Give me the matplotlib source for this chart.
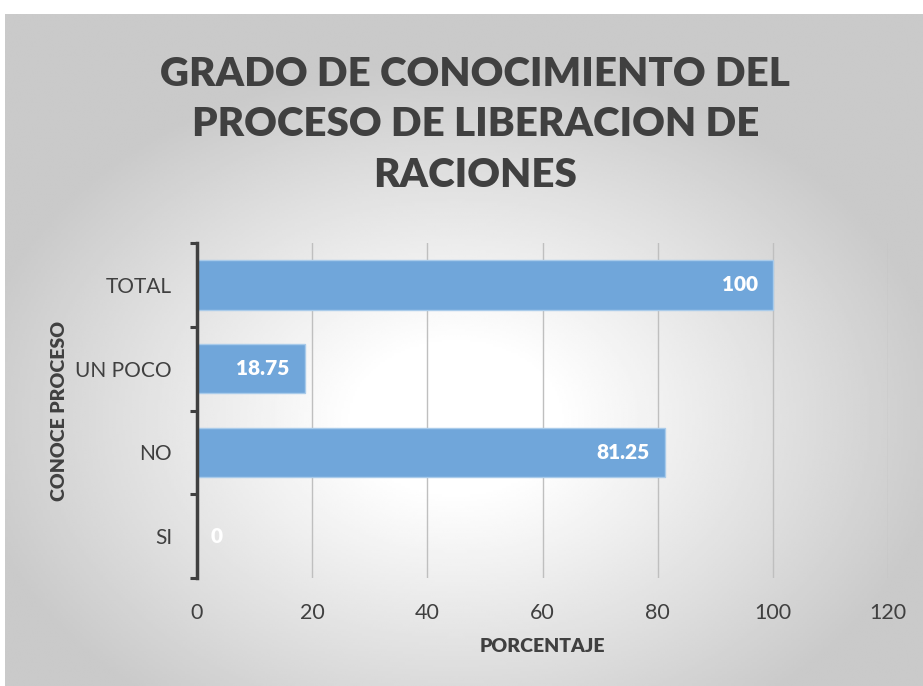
import matplotlib
matplotlib.use("Agg")
import matplotlib.pyplot as plt
import numpy as np

# data
categorias = ["SI", "NO", "UN POCO", "TOTAL"]
porcentajes = [0, 81.25, 18.75, 100]
etiquetas = ["0", "81.25", "18.75", "100"]
x_ticks = [0, 20, 40, 60, 80, 100, 120]

plt.rcParams['font.family'] = ['Lato', 'DejaVu Sans']

W, H = 923, 686
fig = plt.figure(figsize=(W / 100, H / 100), dpi=100)
fig.patch.set_facecolor('white')

# radial gradient background of the chart frame
bg = fig.add_axes([5 / W, 0, 1 - 5 / W, (H - 14) / H], zorder=0)
yy, xx = np.mgrid[0:300, 0:400]
cx, cy = 0.49 * 400, 0.6 * 300
d = np.sqrt(((xx - cx) / 200.0) ** 2 + ((yy - cy) / 150.0) ** 2)
val = 1 - 0.21 * np.clip((d - 0.22) / 0.85, 0, 1)
bg.imshow(val, cmap='gray', vmin=0, vmax=1, aspect='auto', extent=[0, 1, 0, 1])
bg.set_axis_off()

ax = fig.add_axes([197 / W, 1 - 578 / H, (888 - 197) / W, (578 - 243) / H], zorder=1)
ax.patch.set_alpha(0)

y = np.arange(len(categorias))
ax.barh(y, porcentajes, height=0.59, color='#70a6da', edgecolor='#a9cbea', linewidth=1, zorder=3)

for yi, v, lab in zip(y, porcentajes, etiquetas):
    if v > 0:
        ax.annotate(lab, xy=(v, yi), xytext=(-11, 0), textcoords='offset points',
                    ha='right', va='center', color='white', fontsize=15, fontweight='heavy', zorder=4)
    else:
        ax.annotate(lab, xy=(v, yi), xytext=(10, 0), textcoords='offset points',
                    ha='left', va='center', color='white', fontsize=15, fontweight='heavy', zorder=4)

ax.set_xlim(0, 120)
ax.set_ylim(-0.5, len(categorias) - 0.5)
ax.set_xticks(x_ticks)
ax.set_yticks(y)
ax.set_yticklabels(categorias)
ax.set_yticks(np.arange(-0.5, len(categorias)), minor=True)
ax.tick_params(axis='y', which='major', length=0, pad=18, labelsize=15, labelcolor='#404040')
ax.tick_params(axis='y', which='minor', length=5, width=2.2, color='#404040', direction='out')
ax.tick_params(axis='x', length=0, pad=18, labelsize=15.5, labelcolor='#404040')

ax.grid(axis='x', color='#bfbfbf', linewidth=1, zorder=0)
ax.set_axisbelow(True)
for s in ['top', 'right', 'bottom']:
    ax.spines[s].set_visible(False)
ax.spines['left'].set_color('#404040')
ax.spines['left'].set_linewidth(2.5)
ax.spines['left'].set_zorder(5)

ax.set_xlabel('PORCENTAJE', fontsize=14, fontweight='heavy', color='#404040', labelpad=11)
ax.set_ylabel('CONOCE PROCESO', fontsize=14, fontweight='heavy', color='#404040')
ax.yaxis.set_label_coords(-0.186, 0.5)

fig.text(0.515, 1 - 125 / H, 'GRADO DE CONOCIMIENTO DEL\nPROCESO DE LIBERACION DE\nRACIONES',
         ha='center', va='center', fontsize=29, fontweight='heavy', color='#404040',
         linespacing=1.45, zorder=2)

fig.savefig('out.png', dpi=100, facecolor=fig.get_facecolor())
